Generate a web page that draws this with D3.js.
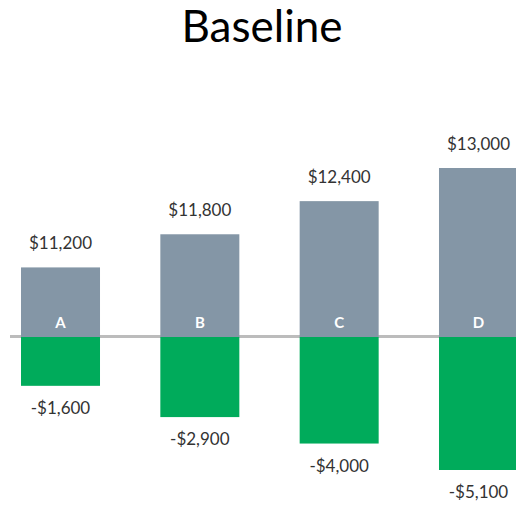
<!DOCTYPE html>
<html>
<head>
<meta charset="utf-8">
<script src="https://cdn.jsdelivr.net/npm/d3@7"></script>
<style>
  body { margin: 0; background: #fff; }
  svg { display: block; }
</style>
</head>
<body>
<script>
// data
var categories = ["A", "B", "C", "D"];
var gains = [11200, 11800, 12400, 13000];
var losses = [-1600, -2900, -4000, -5100];

var width = 516;
var height = 506;
var baseY = 337;

var data = categories.map((c, i) => { return {name: c, gain: gains[i], loss: losses[i]}; });

var svg = d3.select("body")
	.append("svg")
		.attr("width", width)
		.attr("height", height);

var x = d3.scaleBand()
	.domain(categories)
	.range([10, 529])
	.paddingInner(0.433)
	.paddingOuter(0.079);

// positive bars grow up from the baseline, negative bars down
var yPos = d3.scaleLinear()
	.domain([9940, 13000])
	.range([baseY, 168]);

var yNeg = d3.scaleLinear()
	.domain([430, -5100])
	.range([baseY, 470]);

var fmt = d3.format("$,");

svg.append("text")
	.attr("x", 262)
	.attr("y", 42)
	.attr("text-anchor", "middle")
	.attr("font-family", "Lato, sans-serif")
	.attr("font-size", "44px")
	.style("fill", "#000")
	.text("Baseline");

// baseline rule
svg.append("line")
	.attr("x1", 10)
	.attr("x2", width)
	.attr("y1", baseY - 0.5)
	.attr("y2", baseY - 0.5)
	.attr("stroke", "#bcbcbc")
	.attr("stroke-width", 3);

svg.selectAll("rect.gain")
	.data(data)
	.enter()
	.append("rect")
	.attr("class", "gain")
	.attr("x", (d) => { return x(d.name); })
	.attr("y", (d) => { return yPos(d.gain); })
	.attr("width", x.bandwidth())
	.attr("height", (d) => { return baseY - yPos(d.gain); })
	.attr("fill", "#8496a6");

svg.selectAll("rect.loss")
	.data(data)
	.enter()
	.append("rect")
	.attr("class", "loss")
	.attr("x", (d) => { return x(d.name); })
	.attr("y", baseY)
	.attr("width", x.bandwidth())
	.attr("height", (d) => { return yNeg(d.loss) - baseY; })
	.attr("fill", "#00ab5b");

svg.selectAll("text.gainlabel")
	.data(data)
	.enter()
	.append("text")
	.attr("class", "gainlabel")
	.attr("x", (d) => { return x(d.name) + x.bandwidth() / 2; })
	.attr("y", (d) => { return yPos(d.gain) - 18; })
	.attr("text-anchor", "middle")
	.attr("font-family", "Lato, sans-serif")
	.attr("font-size", "17px")
	.style("fill", "#333")
	.text((d) => { return fmt(d.gain); });

svg.selectAll("text.losslabel")
	.data(data)
	.enter()
	.append("text")
	.attr("class", "losslabel")
	.attr("x", (d) => { return x(d.name) + x.bandwidth() / 2; })
	.attr("y", (d) => { return yNeg(d.loss) + 28; })
	.attr("text-anchor", "middle")
	.attr("font-family", "Lato, sans-serif")
	.attr("font-size", "17px")
	.style("fill", "#333")
	.text((d) => { return "-" + fmt(-d.loss); });

svg.selectAll("text.cat")
	.data(data)
	.enter()
	.append("text")
	.attr("class", "cat")
	.attr("x", (d) => { return x(d.name) + x.bandwidth() / 2; })
	.attr("y", baseY - 9)
	.attr("text-anchor", "middle")
	.attr("font-family", "Lato, sans-serif")
	.attr("font-weight", "bold")
	.attr("font-size", "15px")
	.style("fill", "#fff")
	.text((d) => { return d.name; });
</script>
</body>
</html>
